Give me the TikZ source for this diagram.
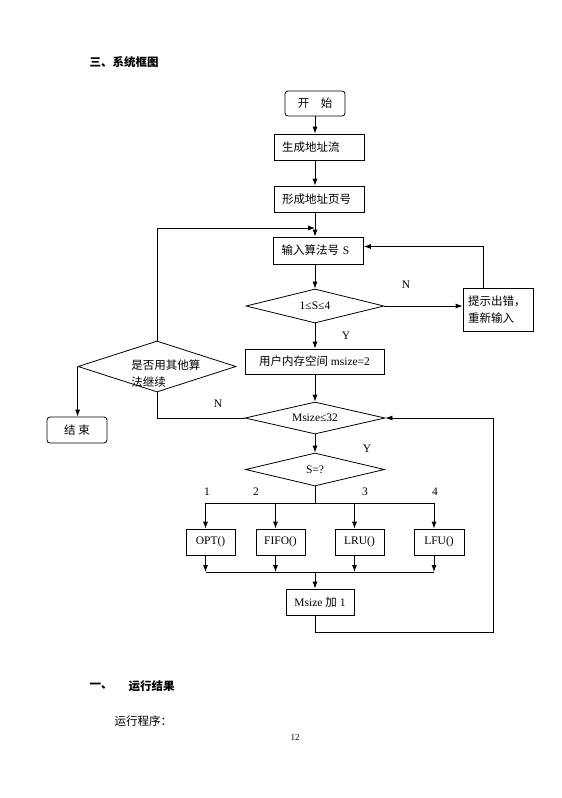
\documentclass[tikz,border=0pt]{standalone}
\usepackage{fontspec}
\setmainfont{Liberation Serif}
\newfontfamily\cjk{Noto Sans CJK SC}
\usetikzlibrary{shapes.geometric,arrows.meta}
\newcommand{\zh}[1]{{\cjk #1}}

\begin{document}
\begin{tikzpicture}[x=1pt,y=-1pt,line width=0.8pt,
  font=\fontsize{11.5}{17}\selectfont,
  box/.style={draw,rectangle,inner sep=0pt,minimum height=26pt},
  endbox/.style={box,rounded corners=3pt},
  textbox/.style={box,text width=74pt,inner xsep=8pt,align=left},
  test/.style={draw,diamond,aspect=4,inner sep=0pt},
  arr/.style={-{Latex[length=7pt,width=5pt]}}]
\useasboundingbox (0,0) rectangle (562,798);

\node[anchor=west,font=\fontsize{11.5}{14}\selectfont\cjk\bfseries] (title) at (86,62) {三、系统框图};

\coordinate (spine) at (315,0);
\node[endbox,minimum width=60pt,minimum height=25pt] (start) at (315,103.5) {\zh{开\quad 始}};
\node[textbox] (gen) at (319,147) {\zh{生成地址流}};
\node[textbox] (page) at (319,199) {\zh{形成地址页号}};
\node[textbox,minimum height=27pt] (input) at (318.5,250.5) {\zh{输入算法号} S};
\node[test,minimum width=138pt,minimum height=34pt] (check) at (315,306) {1≤S≤4};
\node[box,text width=60pt,inner xsep=5pt,minimum height=43pt,align=left] (err) at (498,309.5) {\zh{提示出错，}\\\zh{重新输入}};
\node[box,minimum width=139pt,minimum height=25pt] (msize) at (314.5,361.5) {\zh{用户内存空间} msize=2};
\node[test,minimum width=140pt,minimum height=32pt] (loop) at (315,418) {Msize≤32};
\node[test,minimum width=158pt,minimum height=51pt] (more) at (157,366.5) {};
\node[anchor=north west,align=left,inner sep=0pt] (moretxt) at (131,359) {\zh{是否用其他算}\\\zh{法继续}};
\node[endbox,minimum width=60pt] (stop) at (77,430) {\zh{结\ 束}};
\node[test,minimum width=139pt,minimum height=33pt] (sel) at (315,469.5) {S=?};

\node[box,minimum width=49pt] (opt) at (210.5,542) {OPT()};
\node[box,minimum width=49pt] (fifo) at (280.5,542) {FIFO()};
\node[box,minimum width=49pt] (lru) at (359.5,542) {LRU()};
\node[box,minimum width=50pt] (lfu) at (439,542) {LFU()};
\node[box,minimum width=68pt] (inc) at (320,602) {Msize \zh{加} 1};

\node (n1) at (406,285) {N};
\node (y1) at (346,336) {Y};
\node (n2) at (218,404) {N};
\node (y2) at (367,449) {Y};
\node (l1) at (207,492) {1};
\node (l2) at (256,492) {2};
\node (l3) at (365,492) {3};
\node (l4) at (435,492) {4};

\coordinate (join) at (315,228);
\coordinate (bus1) at (315,503);
\coordinate (bus2) at (315,572);
\coordinate (back) at (493,632);

\draw[arr] (start.south) -- (spine |- gen.north);
\draw[arr] (spine |- gen.south) -- (spine |- page.north);
\draw[arr] (spine |- page.south) -- (spine |- input.north);
\draw[arr] (more.north) |- (join);
\draw[arr] (spine |- input.south) -- (check.north);
\draw[arr] (check.east) -- (check.east -| err.west);
\draw[arr] ([xshift=-15pt]err.north) |- ([yshift=4pt]input.east);
\draw[arr] (check.south) -- (check.south |- msize.north);
\draw[arr] (spine |- msize.south) -- (loop.north);
\draw (loop.west) -| (more.south);
\draw[arr] (more.west) -- (more.west |- stop.north);
\draw[arr] (loop.south) -- (sel.north);
\draw (sel.south) -- (bus1);
\draw ([xshift=-5pt]opt.north |- bus1) -- ([xshift=-5pt]lfu.north |- bus1);
\draw ([xshift=-5pt]opt.south |- bus2) -- ([xshift=-5pt]lfu.south |- bus2);
\foreach \b in {opt,fifo,lru,lfu} {
  \draw[arr] ([xshift=-5pt]\b.north |- bus1) -- ([xshift=-5pt]\b.north);
  \draw[arr] ([xshift=-5pt]\b.south) -- ([xshift=-5pt]\b.south |- bus2);
}
\draw[arr] (bus2) -- (spine |- inc.north);
\draw[arr] (spine |- inc.south) |- (back) |- (loop.east);

\node[anchor=west,font=\fontsize{11.5}{14}\selectfont\cjk\bfseries] (sec) at (86,686) {一、};
\node[anchor=west,font=\fontsize{11.5}{14}\selectfont\cjk\bfseries] (result) at (125,686) {运行结果};
\node[anchor=west] (run) at (111,721) {\zh{运行程序：}};
\node[font=\fontsize{9}{11}\selectfont] (pageno) at (295,738) {12};
\end{tikzpicture}
\end{document}
